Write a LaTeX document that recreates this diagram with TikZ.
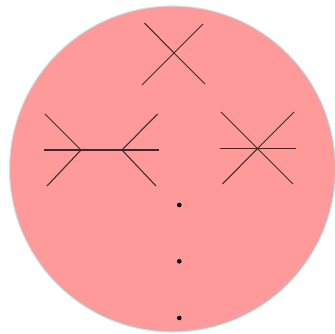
\documentclass[tikz,border=0pt]{standalone}
\usepackage{xcolor}
\usepackage{tikz}
\usetikzlibrary{positioning, calc}
\definecolor{blob}{HTML}{FF9A9A}
\definecolor{rim}{HTML}{B8EEF0}
\definecolor{prop}{HTML}{3A2A2A}

\begin{document}
\begin{tikzpicture}[x=0.02cm, y=-0.02cm,
  leg/.style={draw=prop, line width=0.6pt},
  vtx/.style={coordinate},
  ddot/.style={circle, fill=black, inner sep=0pt, minimum size=4.6*0.02cm}
]
  \useasboundingbox (0,0) rectangle (335,334);
  \fill[blob, draw=rim, line width=0.6pt] (172.5,169) circle (163);

  % top: four-point vertex
  \node[vtx] (t) at (174,53) {};
  \coordinate (t1) at (144.5,23);
  \coordinate (t2) at (203,24);
  \coordinate (t3) at (142,85);
  \coordinate (t4) at (205,84);
  \draw[leg] (t1) -- (t) -- (t4);
  \draw[leg] (t2) -- (t) -- (t3);

  % left: two cubic vertices joined
  \node[vtx] (la) at (81,150) {};
  \node[vtx] (lb) at (122,150) {};
  \coordinate (l1) at (44,150);
  \coordinate (l2) at (45,114);
  \coordinate (l3) at (47,186);
  \coordinate (l4) at (159,150);
  \coordinate (l5) at (157.5,114);
  \coordinate (l6) at (156,186);
  \draw[leg] (l1) -- (la) -- (lb) -- (l4);
  \draw[leg] (l2) -- (la) -- (l3);
  \draw[leg] (l5) -- (lb) -- (l6);

  % right: six-point vertex
  \node[vtx] (r) at (257.5,148.5) {};
  \coordinate (r1) at (219.5,148.5);
  \coordinate (r2) at (295.5,148.5);
  \coordinate (r3) at (221,112);
  \coordinate (r4) at (293,184);
  \coordinate (r5) at (294,112);
  \coordinate (r6) at (222.5,184);
  \draw[leg] (r1) -- (r) -- (r2);
  \draw[leg] (r3) -- (r) -- (r4);
  \draw[leg] (r5) -- (r) -- (r6);

  % dots
  \node[ddot] (d1) at (179.3,205) {};
  \node[ddot] (d2) at (179.3,261.3) {};
  \node[ddot] (d3) at (179.3,318) {};

\end{tikzpicture}
\end{document}
